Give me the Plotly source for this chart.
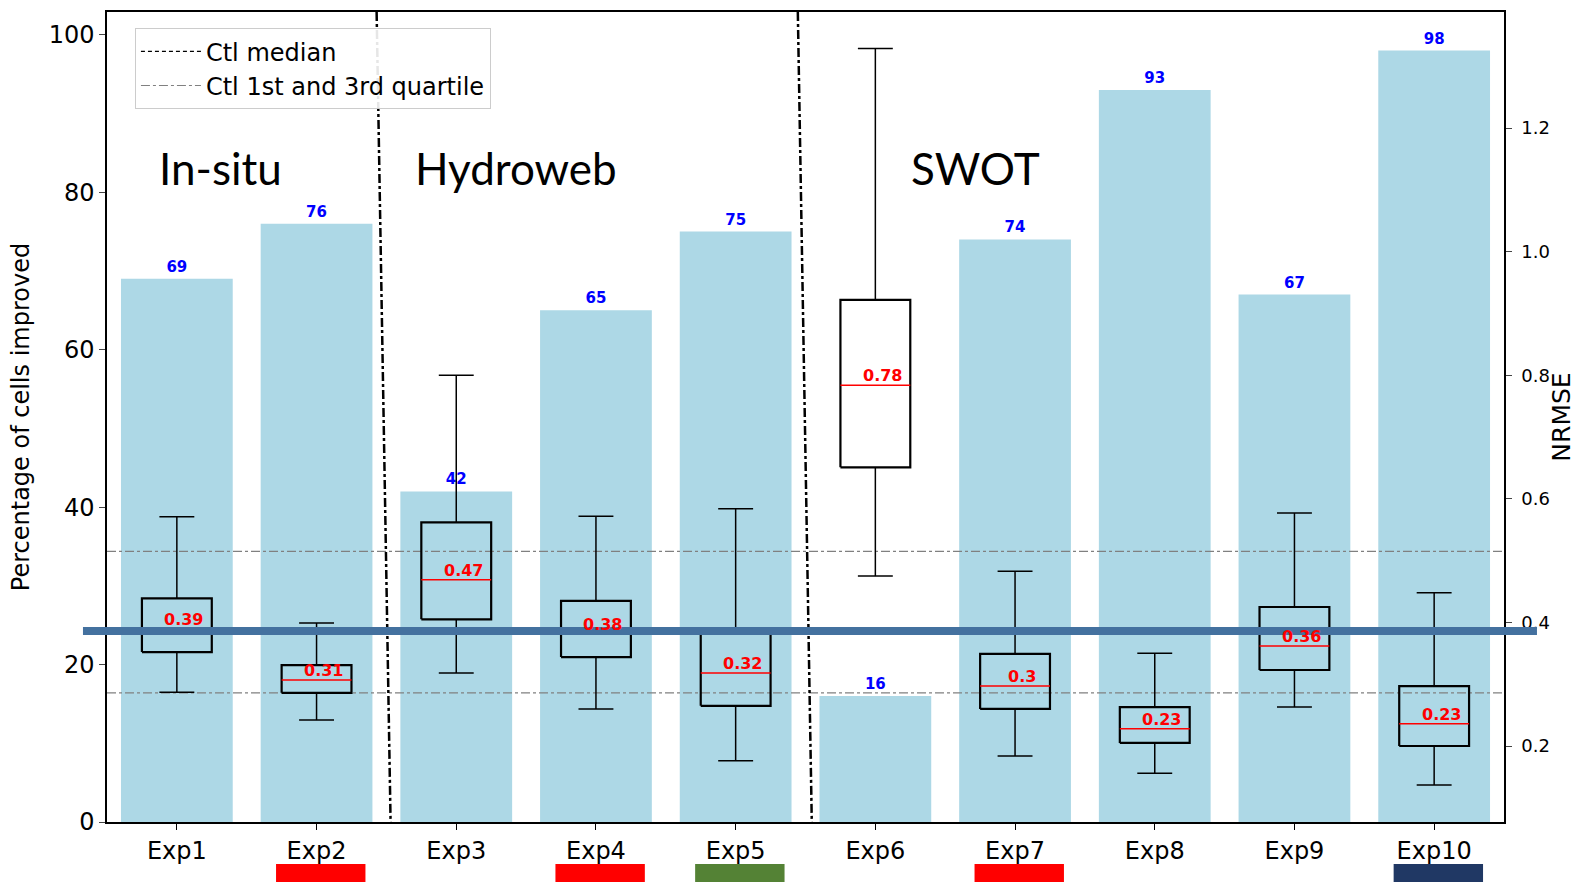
import plotly.graph_objects as go

# ---- data ----
experiments = ["Exp1", "Exp2", "Exp3", "Exp4", "Exp5", "Exp6", "Exp7", "Exp8", "Exp9", "Exp10"]
pct_improved = [69, 76, 42, 65, 75, 16, 74, 93, 67, 98]

nrmse_whislo = [0.287, 0.242, 0.318, 0.260, 0.176, 0.475, 0.184, 0.156, 0.263, 0.137]
nrmse_q1     = [0.352, 0.286, 0.405, 0.344, 0.265, 0.651, 0.260, 0.205, 0.323, 0.200]
nrmse_median = [0.390, 0.307, 0.469, 0.381, 0.318, 0.784, 0.297, 0.228, 0.362, 0.236]
nrmse_q3     = [0.439, 0.331, 0.562, 0.435, 0.389, 0.922, 0.349, 0.263, 0.425, 0.297]
nrmse_whishi = [0.571, 0.399, 0.800, 0.572, 0.584, 1.329, 0.483, 0.350, 0.577, 0.448]
median_labels = ["0.39", "0.31", "0.47", "0.38", "0.32", "0.78", "0.3", "0.23", "0.36", "0.23"]

ctl_median = 0.381
ctl_q1 = 0.286
ctl_q3 = 0.515
highlight_level = 0.386

groups = ["In-situ", "Hydroweb", "SWOT"]
group_centres = [0.315, 2.43, 5.72]
group_dividers = [1.48, 4.495]

flag_exps = ["Exp2", "Exp4", "Exp5", "Exp7", "Exp10"]
flag_colors = ["#ff0000", "#ff0000", "#548235", "#ff0000", "#203864"]

xs = list(range(len(experiments)))
FONT = "DejaVu Sans"
HALF = 0.25   # half box width
CAP = 0.125   # half cap width

fig = go.Figure()

# bars (left axis)
fig.add_trace(go.Bar(
    x=xs, y=pct_improved, width=0.8, marker=dict(color="#add8e6", line=dict(width=0)),
    text=[f"<b>{v}</b>" for v in pct_improved], textposition="outside",
    textfont=dict(color="#0000ff", size=15, family=FONT), cliponaxis=False,
    showlegend=False, yaxis="y",
))

# control lines (right axis)
fig.add_trace(go.Scatter(
    x=[-0.5, 9.5], y=[ctl_median, ctl_median], mode="lines", yaxis="y2",
    line=dict(color="black", dash="4px,3px", width=1.3), name="Ctl median",
))
fig.add_trace(go.Scatter(
    x=[-0.5, 9.5, None, -0.5, 9.5], y=[ctl_q1, ctl_q1, None, ctl_q3, ctl_q3], mode="lines", yaxis="y2",
    line=dict(color="#808080", dash="dashdot", width=1.2), name="Ctl 1st and 3rd quartile",
))

# whiskers
wx, wy = [], []
for i, lo, q1, q3, hi in zip(xs, nrmse_whislo, nrmse_q1, nrmse_q3, nrmse_whishi):
    wx += [i, i, None, i, i, None, i - CAP, i + CAP, None, i - CAP, i + CAP, None]
    wy += [lo, q1, None, q3, hi, None, lo, lo, None, hi, hi, None]
fig.add_trace(go.Scatter(x=wx, y=wy, mode="lines", yaxis="y2", showlegend=False,
                         line=dict(color="black", width=1.5), hoverinfo="skip"))

# boxes
bx, by = [], []
for i, q1, q3 in zip(xs, nrmse_q1, nrmse_q3):
    bx += [i - HALF, i + HALF, i + HALF, i - HALF, i - HALF, None]
    by += [q1, q1, q3, q3, q1, None]
fig.add_trace(go.Scatter(x=bx, y=by, mode="lines", yaxis="y2", showlegend=False,
                         line=dict(color="black", width=2.2), hoverinfo="skip"))

# red medians
mx, my = [], []
for i, m in zip(xs, nrmse_median):
    mx += [i - HALF, i + HALF, None]
    my += [m, m, None]
fig.add_trace(go.Scatter(x=mx, y=my, mode="lines", yaxis="y2", showlegend=False,
                         line=dict(color="#ff0000", width=1.5), hoverinfo="skip"))

annotations = []
for i, m, lab in zip(xs, nrmse_median, median_labels):
    annotations.append(dict(x=i + 0.05, y=m, xref="x", yref="y2", text=f"<b>{lab}</b>",
                            showarrow=False, yanchor="bottom", yshift=-2,
                            font=dict(color="#ff0000", size=16, family=FONT)))
for g, c in zip(groups, group_centres):
    annotations.append(dict(x=c, y=83.1, xref="x", yref="y", text=g, showarrow=False,
                            font=dict(color="black", size=44, family="Lato")))

shapes = []
for d in group_dividers:
    shapes.append(dict(type="line", xref="x", yref="paper", x0=d - 0.05, x1=d + 0.05,
                       y0=1, y1=0, line=dict(color="black", width=2.5, dash="dashdot")))
for e, col in zip(flag_exps, flag_colors):
    i = experiments.index(e)
    shapes.append(dict(type="rect", xref="x", yref="paper", x0=i + 0.03 - 0.32, x1=i + 0.03 + 0.32,
                       y0=-0.09, y1=-0.052, fillcolor=col, line=dict(width=0), layer="above"))
shapes.append(dict(type="line", xref="paper", yref="y2", x0=-0.0172, x1=1.0236,
                   y0=highlight_level, y1=highlight_level, layer="above",
                   line=dict(color="#44719f", width=8)))

fig.update_layout(
    width=1576, height=882,
    margin=dict(l=107, r=72, t=12, b=60, autoexpand=False),
    paper_bgcolor="white", plot_bgcolor="white",
    font=dict(family=FONT, color="black"),
    xaxis=dict(range=[-0.5, 9.5], tickmode="array", tickvals=xs, ticktext=experiments,
               showgrid=False, zeroline=False, showline=True, mirror=True, linecolor="black",
               linewidth=1.5, ticks="outside", ticklen=6, tickcolor="black", automargin=False,
               tickfont=dict(size=24, family=FONT)),
    yaxis=dict(range=[0, 102.9], tickvals=[0, 20, 40, 60, 80, 100], showgrid=False, zeroline=False,
               showline=True, linecolor="black", linewidth=1.5, ticks="outside", ticklen=6,
               tickfont=dict(size=24, family=FONT), automargin=False,
               title=dict(text="Percentage of cells improved", font=dict(size=24, family=FONT), standoff=12)),
    yaxis2=dict(range=[0.077, 1.388], overlaying="y", side="right", tickvals=[0.2, 0.4, 0.6, 0.8, 1.0, 1.2],
                ticktext=["0.2", "0.4", "0.6", "0.8", "1.0", "1.2"], showgrid=False, zeroline=False,
                showline=True, linecolor="black", linewidth=1.5, ticks="outside", ticklen=6,
                ticklabelstandoff=6,
                tickfont=dict(size=18, family=FONT), automargin=False,
                title=dict(text="NRMSE", font=dict(size=25, family=FONT), standoff=14)),
    legend=dict(x=0.02, y=0.98, xanchor="left", yanchor="top", bgcolor="rgba(255,255,255,0.9)",
                bordercolor="#cccccc", borderwidth=1, font=dict(size=24, family=FONT),
                itemwidth=60, tracegroupgap=4),
    annotations=annotations, shapes=shapes,
)

fig.write_html("out.html")
